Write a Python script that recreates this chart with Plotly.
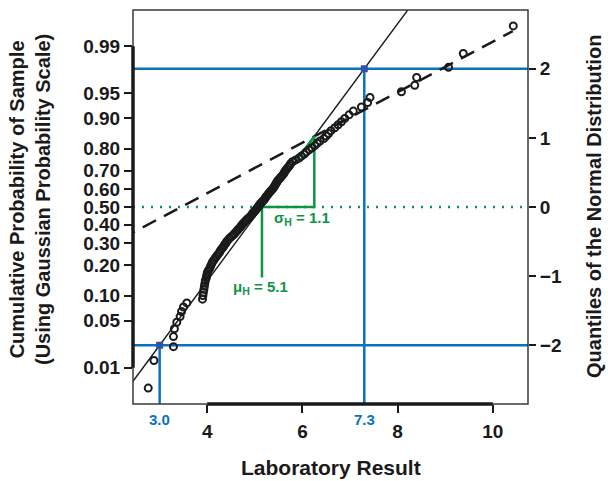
import plotly.graph_objects as go
from statistics import NormalDist

# ---- data ----
results = [2.76, 2.88, 3.29, 3.29, 3.31, 3.36, 3.43, 3.46, 3.50, 3.57,
           3.90, 3.91, 3.92, 3.93, 3.94, 3.95, 3.96, 3.98, 3.99, 4.00,
           4.02, 4.05, 4.07, 4.09, 4.11, 4.14, 4.17, 4.20, 4.23, 4.26,
           4.28, 4.31, 4.34, 4.36, 4.39, 4.41, 4.44, 4.47, 4.51, 4.55,
           4.58, 4.61, 4.64, 4.67, 4.70, 4.72, 4.75, 4.78, 4.81, 4.84,
           4.88, 4.91, 4.94, 4.96, 4.99, 5.02, 5.04, 5.07, 5.09, 5.11,
           5.14, 5.17, 5.20, 5.22, 5.24, 5.27, 5.29, 5.32, 5.35, 5.38,
           5.40, 5.42, 5.44, 5.46, 5.48, 5.51, 5.54, 5.57, 5.60, 5.62,
           5.64, 5.67, 5.70, 5.73, 5.75, 5.79, 5.86, 5.93, 5.98, 6.04,
           6.08, 6.14, 6.20, 6.26, 6.31, 6.37, 6.45, 6.50, 6.55, 6.60,
           6.68, 6.75, 6.82, 6.89, 6.98, 7.07, 7.24, 7.37, 7.42, 8.08,
           8.36, 8.40, 9.07, 9.38, 10.43]
quantiles = [-2.62, -2.22, -2.02, -1.875, -1.761, -1.667, -1.585, -1.512, -1.447, -1.388,
             -1.333, -1.282, -1.234, -1.190, -1.146, -1.104, -1.064, -1.027, -0.990, -0.955,
             -0.922, -0.889, -0.857, -0.826, -0.796, -0.766, -0.737, -0.709, -0.681, -0.654,
             -0.627, -0.601, -0.575, -0.549, -0.524, -0.499, -0.475, -0.451, -0.427, -0.403,
             -0.380, -0.356, -0.333, -0.310, -0.287, -0.265, -0.242, -0.220, -0.197, -0.175,
             -0.153, -0.131, -0.109, -0.087, -0.065, -0.044, -0.022, 0.0, 0.022, 0.044,
             0.065, 0.087, 0.109, 0.131, 0.153, 0.175, 0.197, 0.220, 0.242, 0.265,
             0.287, 0.310, 0.333, 0.356, 0.380, 0.403, 0.427, 0.451, 0.475, 0.499,
             0.524, 0.549, 0.575, 0.601, 0.627, 0.654, 0.681, 0.709, 0.737, 0.766,
             0.796, 0.826, 0.857, 0.889, 0.922, 0.955, 0.990, 1.027, 1.064, 1.104,
             1.146, 1.190, 1.234, 1.282, 1.333, 1.388, 1.447, 1.512, 1.585, 1.667,
             1.761, 1.875, 2.02, 2.22, 2.62]

prob_ticks = [0.01, 0.05, 0.10, 0.20, 0.30, 0.40, 0.50, 0.60, 0.70, 0.80, 0.90, 0.95, 0.99]
prob_labels = ["0.01", "0.05", "0.10", "0.20", "0.30", "0.40", "0.50", "0.60", "0.70",
               "0.80", "0.90", "0.95", "0.99"]
quant_ticks = [-2, -1, 0, 1, 2]
quant_labels = ["\u22122", "\u22121", "0", "1", "2"]
x_ticks = [4, 6, 8, 10]

# reference points (blue): x at quantile -2 and +2
ref_x = [3.0, 7.3]
ref_q = [-2, 2]
# healthy-population estimates
mu_h = 5.15
sigma_h = 1.1
# dashed line (whole sample)
dash_mean = 3.45
dash_sd = 2.74

XR = [2.44, 10.74]
YR = [-2.85, 2.85]

BLUE = "#0a72bd"
GREEN = "#0c9447"
SQ = "#3451a3"
INK = "#1a1a1a"
FONT = "Liberation Sans, Arial, Helvetica, sans-serif"

nd = NormalDist()
prob_pos = [nd.inv_cdf(p) for p in prob_ticks]

fig = go.Figure()

# blue reference lines
for xv, qv in zip(ref_x, ref_q):
    fig.add_trace(go.Scatter(x=[XR[0], XR[1]], y=[qv, qv], mode="lines",
                             line=dict(color=BLUE, width=2.5), hoverinfo="skip"))
    fig.add_trace(go.Scatter(x=[xv, xv], y=[qv, YR[0]], mode="lines",
                             line=dict(color=BLUE, width=2.5), hoverinfo="skip"))

# green dotted zero line
fig.add_trace(go.Scatter(x=[XR[0], XR[1]], y=[0, 0], mode="lines",
                         line=dict(color=GREEN, width=2.5, dash="2px,7px"), hoverinfo="skip"))

# solid fitted line through the reference points
slope = (ref_q[1] - ref_q[0]) / (ref_x[1] - ref_x[0])
lx = [2.2, 8.5]
ly = [ref_q[0] + slope * (v - ref_x[0]) for v in lx]
fig.add_trace(go.Scatter(x=lx, y=ly, mode="lines", line=dict(color=INK, width=1.4),
                         hoverinfo="skip"))

# dashed line
dx = [2.2, 10.42]
dy = [(v - dash_mean) / dash_sd for v in dx]
fig.add_trace(go.Scatter(x=dx, y=dy, mode="lines",
                         line=dict(color=INK, width=2.5, dash="15px,9px"), hoverinfo="skip"))

# green triangle and mean marker
top_q = sigma_h * slope
fig.add_trace(go.Scatter(x=[mu_h, mu_h + sigma_h, mu_h + sigma_h, mu_h],
                         y=[0, 0, top_q, 0], mode="lines",
                         line=dict(color=GREEN, width=2.5), hoverinfo="skip"))
fig.add_trace(go.Scatter(x=[mu_h, mu_h], y=[0, -1.02], mode="lines",
                         line=dict(color=GREEN, width=2.5), hoverinfo="skip"))

# sample points
fig.add_trace(go.Scatter(x=results, y=quantiles, mode="markers",
                         marker=dict(symbol="circle-open", size=7, color=INK,
                                     line=dict(width=2, color=INK)),
                         hoverinfo="skip"))

# blue squares
fig.add_trace(go.Scatter(x=ref_x, y=ref_q, mode="markers",
                         marker=dict(symbol="square", size=7, color=SQ), hoverinfo="skip"))

# dummy trace to activate right axis
fig.add_trace(go.Scatter(x=[None], y=[None], yaxis="y2", hoverinfo="skip"))

tick_font = dict(size=19, family=FONT, weight="bold", color=INK)

fig.update_layout(
    width=608, height=481,
    margin=dict(l=133, r=80, t=10, b=77),
    paper_bgcolor="white", plot_bgcolor="white",
    showlegend=False,
    font=dict(family=FONT, color=INK),
    xaxis=dict(range=XR, tickvals=x_ticks, ticktext=[str(v) for v in x_ticks],
               ticks="outside", ticklen=8, tickwidth=2, tickcolor=INK,
               showgrid=False, zeroline=False, showline=False,
               tickfont=tick_font, ticklabelstandoff=2),
    yaxis=dict(range=YR, tickvals=prob_pos, ticktext=prob_labels,
               ticks="outside", ticklen=8, tickwidth=1.5, tickcolor=INK,
               showgrid=False, zeroline=False, showline=False,
               tickfont=tick_font),
    yaxis2=dict(range=YR, overlaying="y", side="right", tickvals=quant_ticks,
                ticktext=quant_labels, ticks="outside", ticklen=7, tickwidth=1.5,
                tickcolor=INK, showgrid=False, zeroline=False, showline=False,
                tickfont=tick_font),
)

# frame and range-frame bars
fig.add_shape(type="rect", xref="paper", yref="paper", x0=0, x1=1, y0=0, y1=1,
              line=dict(color="#3a3a3a", width=1.5), layer="above")
fig.add_shape(type="line", xref="x", yref="paper", x0=4, x1=10, y0=0, y1=0,
              line=dict(color=INK, width=3.5), layer="above")
fig.add_shape(type="line", xref="paper", yref="y", x0=0, x1=0,
              y0=prob_pos[0], y1=prob_pos[-1],
              line=dict(color=INK, width=3.5), layer="above")

# blue x labels
for xv in ref_x:
    fig.add_annotation(x=xv, y=0, xref="x", yref="paper", text=f"{xv:.1f}",
                       showarrow=False, yanchor="top", yshift=-5,
                       font=dict(size=15, color=BLUE, family=FONT, weight="bold"))

# green labels
fig.add_annotation(x=mu_h + 0.22, y=-0.17, xref="x", yref="y", xanchor="left", yanchor="middle",
                   text="\u03c3<sub>H</sub> = 1.1", showarrow=False,
                   font=dict(size=15, color=GREEN, family=FONT, weight="bold"))
fig.add_annotation(x=mu_h - 0.66, y=-1.17, xref="x", yref="y", xanchor="left", yanchor="middle",
                   text="\u03bc<sub>H</sub> = 5.1", showarrow=False,
                   font=dict(size=15, color=GREEN, family=FONT, weight="bold"))

# axis titles
fig.add_annotation(x=0.5, y=(404 - 467) / 394, xref="paper", yref="paper",
                   xanchor="center", yanchor="middle",
                   text="Laboratory Result", showarrow=False,
                   font=dict(size=21, family=FONT, weight="bold", color=INK))
fig.add_annotation(x=(30 - 133) / 395, y=(404 - 200) / 394, xref="paper", yref="paper",
                   xanchor="center", yanchor="middle",
                   text="Cumulative Probability of Sample<br>(Using Gaussian Probability Scale)",
                   textangle=-90, showarrow=False,
                   font=dict(size=20, family=FONT, weight="bold", color=INK))
fig.add_annotation(x=(594 - 133) / 395, y=(404 - 207) / 394, xref="paper", yref="paper",
                   xanchor="center", yanchor="middle",
                   text="Quantiles of the Normal Distribution",
                   textangle=-90, showarrow=False,
                   font=dict(size=20, family=FONT, weight="bold", color=INK))

fig.write_html("out.html")
